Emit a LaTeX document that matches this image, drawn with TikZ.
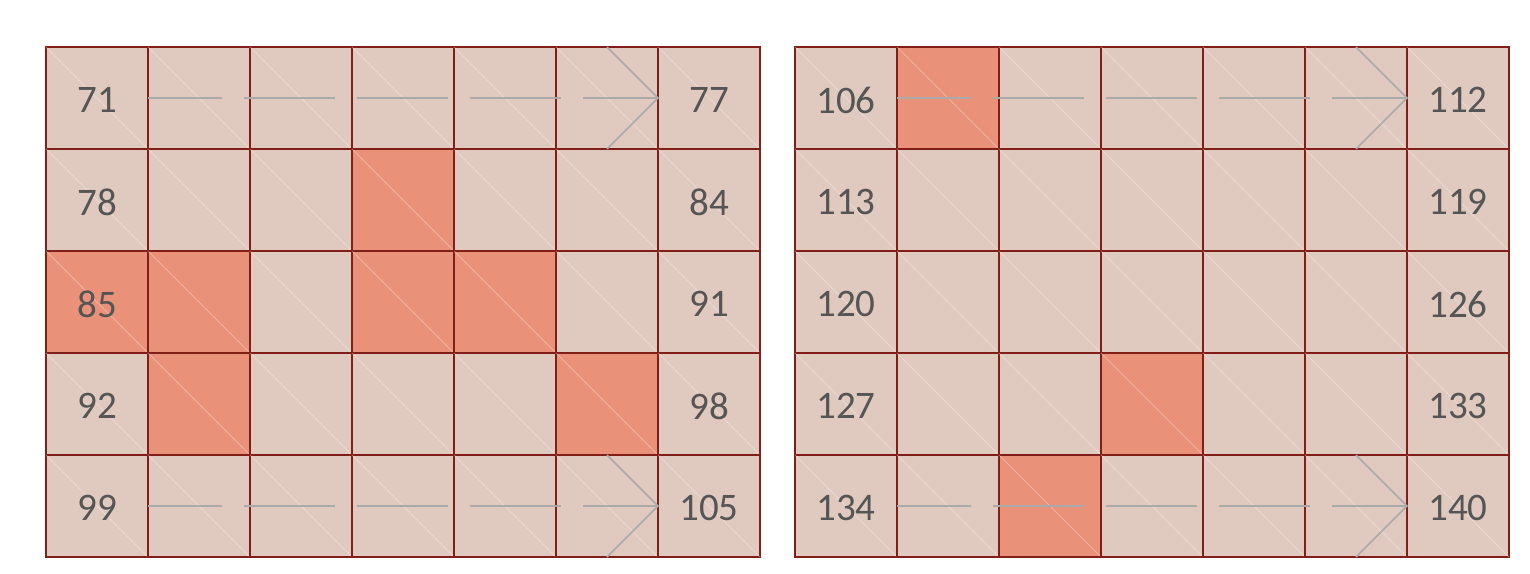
\documentclass[tikz,border=0pt]{standalone}
\usepackage{fontspec}
\setmainfont{Carlito}
\definecolor{cellbg}{RGB}{224,201,191}
\definecolor{cellhot}{RGB}{234,145,122}
\definecolor{gridred}{RGB}{128,30,24}
\definecolor{numgray}{RGB}{85,85,85}
\definecolor{arrowgray}{RGB}{170,170,170}
\begin{document}
\begin{tikzpicture}[x=1pt,y=-1pt,
  cell/.style={draw=gridred, line width=2.8pt, minimum size=102pt, inner sep=0pt, outer sep=0pt,
    text=numgray, font=\fontsize{39}{39}\selectfont},
  lbl/.style={text=numgray, font=\fontsize{39}{39}\selectfont, inner sep=0pt},
  diag/.style={draw=white, draw opacity=0.3, line width=0.8pt},
  flow/.style={draw=arrowgray, line width=1.6pt, dash pattern=on 91pt off 22pt, dash phase=17pt},
  head/.style={draw=arrowgray, line width=1.6pt}]
\useasboundingbox (0,0) rectangle (1530,573);
\expandafter\def\csname hot-L-1-3\endcsname{}
\expandafter\def\csname hot-L-2-0\endcsname{}
\expandafter\def\csname hot-L-2-1\endcsname{}
\expandafter\def\csname hot-L-2-3\endcsname{}
\expandafter\def\csname hot-L-2-4\endcsname{}
\expandafter\def\csname hot-L-3-1\endcsname{}
\expandafter\def\csname hot-L-3-5\endcsname{}
\expandafter\def\csname hot-R-0-1\endcsname{}
\expandafter\def\csname hot-R-3-3\endcsname{}
\expandafter\def\csname hot-R-4-2\endcsname{}
\foreach \g/\gx/\base in {L/46/71,R/795/106}{
  \foreach \r in {0,...,4}{
    \foreach \c in {0,...,6}{
      \pgfmathtruncatemacro\num{\base+7*\r+\c}
      \ifcsname hot-\g-\r-\c\endcsname \def\fc{cellhot}\else\def\fc{cellbg}\fi
      \node[cell, fill=\fc] (\g-\r-\c) at (\gx+51+102*\c, 47+51+102*\r) {};
      \draw[diag] (\g-\r-\c.north west) -- (\g-\r-\c.south east);
      \ifnum\c=0 \node[lbl] (\g-\r-\c-t) at ([yshift=-2pt]\g-\r-\c.center) {\num};\fi
      \ifnum\c=6 \node[lbl] (\g-\r-\c-t) at ([yshift=-2pt]\g-\r-\c.center) {\num};\fi
    }
  }
}
\foreach \g/\r in {L/0,L/4,R/0,R/4}{
  \draw[flow] (\g-\r-1.west) -- (\g-\r-6.west);
  \draw[head] (\g-\r-5.north) -- (\g-\r-6.west) -- (\g-\r-5.south);
}
\end{tikzpicture}
\end{document}
